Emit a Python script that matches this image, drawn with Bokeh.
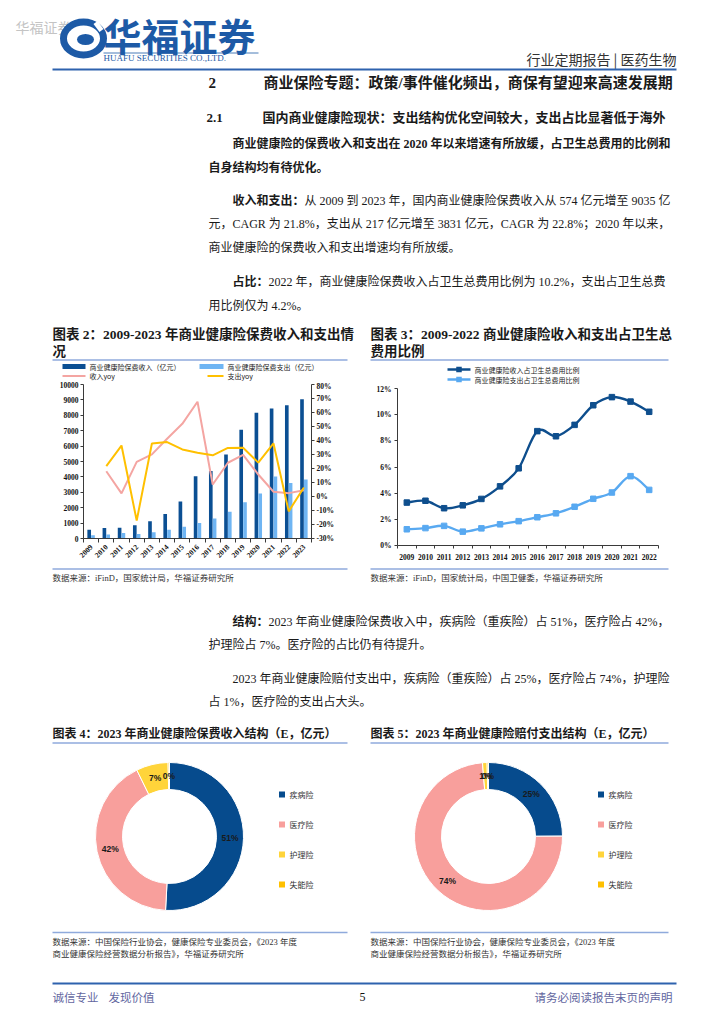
import math
from bokeh.plotting import figure
from bokeh.models import Range1d, LinearAxis, FixedTicker, PrintfTickFormatter
from bokeh.layouts import column, row
from bokeh.embed import file_html
from bokeh.resources import INLINE
from bokeh.core.properties import value

NAN = float("nan")

# ---------------- data: chart 2 (income / payout, 亿元, yoy %) ----------------
years_a = ["2009", "2010", "2011", "2012", "2013", "2014", "2015", "2016",
           "2017", "2018", "2019", "2020", "2021", "2022", "2023"]
premium_income = [574, 677, 692, 863, 1123, 1587, 2410, 4042, 4389, 5448, 7066, 8173, 8447, 8653, 9035]
claims_expense = [217, 264, 360, 298, 411, 571, 763, 1001, 1295, 1744, 2351, 2921, 4029, 3600, 3831]
income_yoy = [NAN, 18.0, 2.2, 24.7, 30.1, 41.3, 51.9, 67.7, 8.6, 24.1, 29.7, 15.7, 3.4, 2.4, 4.4]
expense_yoy = [NAN, 21.7, 36.4, -17.2, 37.9, 38.9, 33.6, 31.2, 29.4, 34.7, 34.8, 24.2, 37.9, -10.6, 6.4]
left_ticks = [0, 1000, 2000, 3000, 4000, 5000, 6000, 7000, 8000, 9000, 10000]
right_ticks = [-30, -20, -10, 0, 10, 20, 30, 40, 50, 60, 70, 80]
legend_a = ["商业健康险保费收入（亿元）", "商业健康险保费支出（亿元）", "收入yoy", "支出yoy"]

# ---------------- data: chart 3 (share of total health expenditure, %) ----------------
years_b = ["2009", "2010", "2011", "2012", "2013", "2014", "2015", "2016",
           "2017", "2018", "2019", "2020", "2021", "2022"]
income_share = [3.28, 3.42, 2.85, 3.07, 3.56, 4.52, 5.90, 8.74, 8.35, 9.22, 10.72, 11.34, 11.00, 10.22]
expense_share = [1.24, 1.33, 1.50, 1.06, 1.31, 1.62, 1.86, 2.16, 2.46, 2.96, 3.57, 4.05, 5.30, 4.25]
share_ticks = [0, 2, 4, 6, 8, 10, 12]
legend_b = ["商业健康险收入占卫生总费用比例", "商业健康险支出占卫生总费用比例"]

# ---------------- data: pies ----------------
pie_categories = ["疾病险", "医疗险", "护理险", "失能险"]
income_structure = [51.0, 42.0, 7.0, 0.3]
payout_structure = [25.0, 74.0, 1.0, 0.3]

# ---------------- styles ----------------
CJK = "Noto Sans CJK SC"
SERIF = "Liberation Serif, Noto Sans CJK SC"
BAR_DARK = "#0B4F93"
BAR_LIGHT = "#6FB5F3"
PINK = "#F4A5A2"
YELLOW = "#FFC000"
L3_DARK = "#0E4E8D"
L3_LIGHT = "#58A9F1"
PIE_COLORS = ["#064B8D", "#F89F9C", "#FFD43A", "#FFC000"]
RULE = "#8FAADC"
HEAD_BLUE = "#2E62AE"
LOGO_BLUE = "#1D5AA6"
FOOT = "#63679F"


def page_fig(x0, x1, y0, y1):
    p = figure(width=int(round(x1 - x0)), height=int(round(y1 - y0)), x_range=Range1d(x0, x1),
               y_range=Range1d(y1, y0), output_backend="svg", toolbar_location=None, title=None,
               min_border=0, x_axis_location=None, y_axis_location=None, frame_align=False)
    p.grid.visible = False
    p.outline_line_color = None
    return p


def txt(p, x, y, s, size, color="#1a1a1a", bold=False, font=CJK, align="left"):
    p.text(x=[x], y=[y], text=[s], text_font=value(font), text_font_size=value(f"{size}px"),
           text_font_style="bold" if bold else "normal", text_color=color,
           text_align=align, text_baseline="middle")


def hline(p, x0, x1, y, color, w):
    p.segment(x0=[x0], y0=[y], x1=[x1], y1=[y], line_color=color, line_width=w)


# ================= top band (y 0..362) =================
top = page_fig(0, 708, 0, 362)
txt(top, 15, 26, "华福证券", 14, color="#c4c4c4")
# logo mark
top.ellipse(x=[83], y=[38], width=[40], height=[33], fill_color=None, line_color=LOGO_BLUE, line_width=7)
top.ellipse(x=[85], y=[39], width=[17], height=[11], fill_color=LOGO_BLUE, line_color=None)
top.segment(x0=[95], y0=[22], x1=[101], y1=[30], line_color="white", line_width=5)
txt(top, 103, 34, "华福证券", 38, color=LOGO_BLUE, bold=True)
hline(top, 103, 258, 52.5, LOGO_BLUE, 0.8)
txt(top, 103, 57.5, "HUAFU SECURITIES CO.,LTD.", 9, color=LOGO_BLUE, font=SERIF)
txt(top, 676, 58, "行业定期报告 | 医药生物", 14, color="#333333", align="right")
hline(top, 52, 676, 69, HEAD_BLUE, 2)

txt(top, 208, 82, "2", 15, bold=True, font=SERIF)
txt(top, 263, 82, "商业保险专题：政策/事件催化频出，商保有望迎来高速发展期", 15, bold=True, font=SERIF)
txt(top, 206, 117, "2.1", 13, bold=True, font=SERIF)
txt(top, 262, 117, "国内商业健康险现状：支出结构优化空间较大，支出占比显著低于海外", 13, bold=True, font=SERIF)
txt(top, 232, 143, "商业健康险的保费收入和支出在 2020 年以来增速有所放缓，占卫生总费用的比例和", 12, bold=True, font=SERIF)
txt(top, 208, 167, "自身结构均有待优化。", 12, bold=True, font=SERIF)
txt(top, 232, 200, "收入和支出：", 12, bold=True, font=SERIF)
txt(top, 304, 200, "从 2009 到 2023 年，国内商业健康险保费收入从 574 亿元增至 9035 亿", 12, font=SERIF)
txt(top, 208, 223, "元，CAGR 为 21.8%，支出从 217 亿元增至 3831 亿元，CAGR 为 22.8%；2020 年以来，", 12, font=SERIF)
txt(top, 208, 247, "商业健康险的保费收入和支出增速均有所放缓。", 12, font=SERIF)
txt(top, 232, 281, "占比：", 12, bold=True, font=SERIF)
txt(top, 268, 281, "2022 年，商业健康险保费收入占卫生总费用比例为 10.2%，支出占卫生总费", 12, font=SERIF)
txt(top, 208, 305, "用比例仅为 4.2%。", 12, font=SERIF)

txt(top, 52, 334, "图表 2：2009-2023 年商业健康险保费收入和支出情", 13.5, bold=True, font=SERIF)
txt(top, 52, 351, "况", 13.5, bold=True, font=SERIF)
txt(top, 370, 334, "图表 3：2009-2022 商业健康险收入和支出占卫生总", 13.5, bold=True, font=SERIF)
txt(top, 370, 351, "费用比例", 13.5, bold=True, font=SERIF)
hline(top, 52, 347, 359.5, RULE, 1.5)
hline(top, 370, 668, 359.5, RULE, 1.5)


def style_axis(ax, size="7.5px"):
    ax.axis_line_color = "#3a3a3a"
    ax.axis_line_width = 1
    ax.major_tick_line_color = "#3a3a3a"
    ax.minor_tick_line_color = "#3a3a3a"
    ax.major_label_text_font = "Liberation Serif"
    ax.major_label_text_font_style = "bold"
    ax.major_label_text_font_size = size
    ax.major_label_text_color = "#111111"


# ================= chart 2 legend strip (x 0..362, y 362..381) =================
lg2 = page_fig(0, 362, 362, 381)
lg2.rect(x=[73.5, 211], y=[366, 366], width=[23, 24], height=[5, 5],
         fill_color=[BAR_DARK, BAR_LIGHT], line_color=None)
lg2.segment(x0=[62, 207], y0=[375.5, 375.5], x1=[85, 223], y1=[375.5, 375.5],
            line_color=[PINK, YELLOW], line_width=2)
lg2.text(x=[89, 227, 89, 227], y=[366, 366, 375.5, 375.5], text=legend_a,
         text_font=value(CJK), text_font_size=value("7px"), text_color="#222222",
         text_align="left", text_baseline="middle")

# ================= chart 2 (x 0..362, y 381..567) =================
idx_a = list(range(len(years_a)))
p2 = figure(width=362, height=186, x_range=Range1d(-0.5, len(years_a) - 0.5), y_range=Range1d(0, 10000),
            output_backend="svg", toolbar_location=None, title=None, frame_align=False,
            x_axis_location=None, y_axis_location=None,
            min_border_left=83, min_border_right=51, min_border_top=3, min_border_bottom=29)
p2.extra_y_ranges = {"pct": Range1d(-30, 80)}
p2.grid.visible = False
p2.outline_line_color = None

xa = LinearAxis(ticker=FixedTicker(ticks=idx_a, minor_ticks=[i - 0.5 for i in range(len(years_a) + 1)]))
xa.major_label_overrides = {i: y for i, y in enumerate(years_a)}
style_axis(xa)
xa.major_tick_out = 0
xa.major_tick_in = 0
xa.minor_tick_out = 4
xa.minor_tick_in = 0
xa.major_label_orientation = math.pi / 4
xa.major_label_standoff = 3
p2.add_layout(xa, "below")

ya = LinearAxis(ticker=FixedTicker(ticks=left_ticks), formatter=PrintfTickFormatter(format="%d"))
style_axis(ya)
ya.major_tick_out = 3
ya.major_tick_in = 0
ya.minor_tick_out = 0
ya.major_label_standoff = 2
p2.add_layout(ya, "left")

yb = LinearAxis(y_range_name="pct", ticker=FixedTicker(ticks=right_ticks), formatter=PrintfTickFormatter(format="%d%%"))
style_axis(yb)
yb.major_tick_out = 3
yb.major_tick_in = 0
yb.minor_tick_out = 0
yb.major_label_standoff = 2
p2.add_layout(yb, "right")

p2.vbar(x=[i - 0.125 for i in idx_a], top=premium_income, width=0.24, fill_color=BAR_DARK, line_color=None)
p2.vbar(x=[i + 0.125 for i in idx_a], top=claims_expense, width=0.24, fill_color=BAR_LIGHT, line_color=None)
p2.line(x=idx_a, y=income_yoy, y_range_name="pct", line_color=PINK, line_width=2)
p2.line(x=idx_a, y=expense_yoy, y_range_name="pct", line_color=YELLOW, line_width=2)

# ================= chart 3 legend strip (x 362..708, y 362..384) =================
lg3 = page_fig(362, 708, 362, 384)
lg3.segment(x0=[447, 447], y0=[369, 379], x1=[470, 470], y1=[369, 379],
            line_color=[L3_DARK, L3_LIGHT], line_width=2.4)
lg3.scatter(x=[458.5, 458.5], y=[369, 379], marker="square", size=5.5,
            fill_color=[L3_DARK, L3_LIGHT], line_color=None)
lg3.text(x=[474, 474], y=[369, 379], text=legend_b, text_font=value(CJK), text_font_size=value("7px"),
         text_color="#222222", text_align="left", text_baseline="middle")

# ================= chart 3 (x 362..708, y 384..567) =================
idx_b = list(range(len(years_b)))
p3 = figure(width=346, height=183, x_range=Range1d(-0.5, len(years_b) - 0.5), y_range=Range1d(0, 12),
            output_backend="svg", toolbar_location=None, title=None, frame_align=False,
            x_axis_location=None, y_axis_location=None,
            min_border_left=35, min_border_right=50, min_border_top=4, min_border_bottom=22)
p3.grid.visible = False
p3.outline_line_color = None

xb = LinearAxis(ticker=FixedTicker(ticks=idx_b, minor_ticks=[i - 0.5 for i in range(len(years_b) + 1)]))
xb.major_label_overrides = {i: y for i, y in enumerate(years_b)}
style_axis(xb)
xb.major_tick_out = 0
xb.major_tick_in = 0
xb.minor_tick_out = 3
xb.minor_tick_in = 0
xb.major_label_standoff = 5
p3.add_layout(xb, "below")

yc = LinearAxis(ticker=FixedTicker(ticks=share_ticks), formatter=PrintfTickFormatter(format="%d%%"))
style_axis(yc)
yc.major_tick_out = 3
yc.major_tick_in = 0
yc.minor_tick_out = 0
yc.major_label_standoff = 3
p3.add_layout(yc, "left")


def smooth(xs, ys, t=1.0):
    n = len(xs)
    out = dict(x0=[], y0=[], x1=[], y1=[], cx0=[], cy0=[], cx1=[], cy1=[])
    for i in range(n - 1):
        xp, yp = (xs[i - 1], ys[i - 1]) if i > 0 else (xs[i], ys[i])
        xn, yn = (xs[i + 2], ys[i + 2]) if i + 2 < n else (xs[i + 1], ys[i + 1])
        out["x0"].append(xs[i]); out["y0"].append(ys[i])
        out["x1"].append(xs[i + 1]); out["y1"].append(ys[i + 1])
        out["cx0"].append(xs[i] + (xs[i + 1] - xp) / 6 * t)
        out["cy0"].append(ys[i] + (ys[i + 1] - yp) / 6 * t)
        out["cx1"].append(xs[i + 1] - (xn - xs[i]) / 6 * t)
        out["cy1"].append(ys[i + 1] - (yn - ys[i]) / 6 * t)
    return out


p3.bezier(**smooth(idx_b, income_share), line_color=L3_DARK, line_width=2.4)
p3.scatter(x=idx_b, y=income_share, marker="square", size=5.5, fill_color=L3_DARK, line_color=L3_DARK)
p3.bezier(**smooth(idx_b, expense_share), line_color=L3_LIGHT, line_width=2.4)
p3.scatter(x=idx_b, y=expense_share, marker="square", size=5.5, fill_color=L3_LIGHT, line_color=L3_LIGHT)

# ================= middle band (y 567..745) =================
mid = page_fig(0, 708, 567, 745)
hline(mid, 52, 347, 568.5, RULE, 1.5)
hline(mid, 370, 668, 568.5, RULE, 1.5)
txt(mid, 52, 577, "数据来源：iFinD，国家统计局，华福证券研究所", 8.5, color="#333333", font=SERIF)
txt(mid, 370, 577, "数据来源：iFinD，国家统计局，中国卫健委，华福证券研究所", 8.5, color="#333333", font=SERIF)
txt(mid, 232, 621, "结构：", 12, bold=True, font=SERIF)
txt(mid, 268, 621, "2023 年商业健康险保费收入中，疾病险（重疾险）占 51%，医疗险占 42%，", 12, font=SERIF)
txt(mid, 208, 644, "护理险占 7%。医疗险的占比仍有待提升。", 12, font=SERIF)
txt(mid, 232, 678, "2023 年商业健康险赔付支出中，疾病险（重疾险）占 25%，医疗险占 74%，护理险", 12, font=SERIF)
txt(mid, 208, 701, "占 1%，医疗险的支出占大头。", 12, font=SERIF)
txt(mid, 52, 733, "图表 4：2023 年商业健康险保费收入结构（E，亿元）", 12, bold=True, font=SERIF)
txt(mid, 370, 733, "图表 5：2023 年商业健康险赔付支出结构（E，亿元）", 12, bold=True, font=SERIF)
hline(mid, 52, 347, 742.5, RULE, 1.5)
hline(mid, 370, 668, 742.5, RULE, 1.5)


# ================= pies (y 745..930) =================
def pie_fig(vals, width, cx_offset):
    # 1 data unit == 1 px; donut centre at data (0, 0)
    p = figure(width=width, height=185, x_range=Range1d(-cx_offset, width - cx_offset), y_range=Range1d(-94, 91),
               output_backend="svg", toolbar_location=None, title=None, min_border=0, frame_align=False,
               x_axis_location=None, y_axis_location=None)
    p.grid.visible = False
    p.outline_line_color = None
    total = sum(vals)
    starts, ends, lx, ly, labels = [], [], [], [], []
    cum = 0.0
    for v in vals:
        a0 = math.pi / 2 - 2 * math.pi * cum / total
        a1 = math.pi / 2 - 2 * math.pi * (cum + v) / total
        starts.append(a0)
        ends.append(a1)
        mid_a = (a0 + a1) / 2
        lx.append(60.5 * math.cos(mid_a))
        ly.append(60.5 * math.sin(mid_a))
        labels.append(f"{round(v / total * 100)}%")
        cum += v
    p.annular_wedge(x=0, y=0, inner_radius=47, outer_radius=74, inner_radius_units="screen",
                    outer_radius_units="screen", start_angle=starts, end_angle=ends, direction="clock",
                    fill_color=PIE_COLORS, line_color="white", line_width=1)
    p.text(x=lx, y=ly, text=labels, text_font=value("Liberation Sans"), text_font_size=value("8.5px"),
           text_font_style="bold", text_color="#1a1a1a", text_align="center", text_baseline="middle")
    # legend
    n = len(pie_categories)
    ky = [42 - 30 * k for k in range(n)]
    p.scatter(x=[112.5] * n, y=ky, marker="square", size=6, fill_color=PIE_COLORS, line_color=None)
    p.text(x=[120] * n, y=ky, text=pie_categories, text_font=value(CJK), text_font_size=value("8px"),
           text_color="#333333", text_align="left", text_baseline="middle")
    return p


pie1 = pie_fig(income_structure, 362, 169)
pie2 = pie_fig(payout_structure, 346, 126)

# ================= bottom band (y 930..1008) =================
bot = page_fig(0, 708, 930, 1008)
hline(bot, 52, 347, 932, RULE, 1.5)
hline(bot, 370, 668, 932, RULE, 1.5)
for x0 in (52, 370):
    txt(bot, x0, 941, "数据来源：中国保险行业协会，健康保险专业委员会，《2023 年度", 8.5, color="#333333", font=SERIF)
    txt(bot, x0, 953, "商业健康保险经营数据分析报告》，华福证券研究所", 8.5, color="#333333", font=SERIF)
hline(bot, 52, 676, 983, HEAD_BLUE, 2)
txt(bot, 52, 996, "诚信专业", 11.5, color=FOOT)
txt(bot, 108, 996, "发现价值", 11.5, color=FOOT)
txt(bot, 362, 996, "5", 12, color="#111111", font=SERIF, align="center")
txt(bot, 672, 996, "请务必阅读报告末页的声明", 11.5, color=FOOT, align="right")

layout = column(
    top,
    row(column(lg2, p2, spacing=0), column(lg3, p3, spacing=0), spacing=0),
    mid,
    row(pie1, pie2, spacing=0),
    bot,
    spacing=0,
)
open("out.html", "w").write(file_html(layout, INLINE))
